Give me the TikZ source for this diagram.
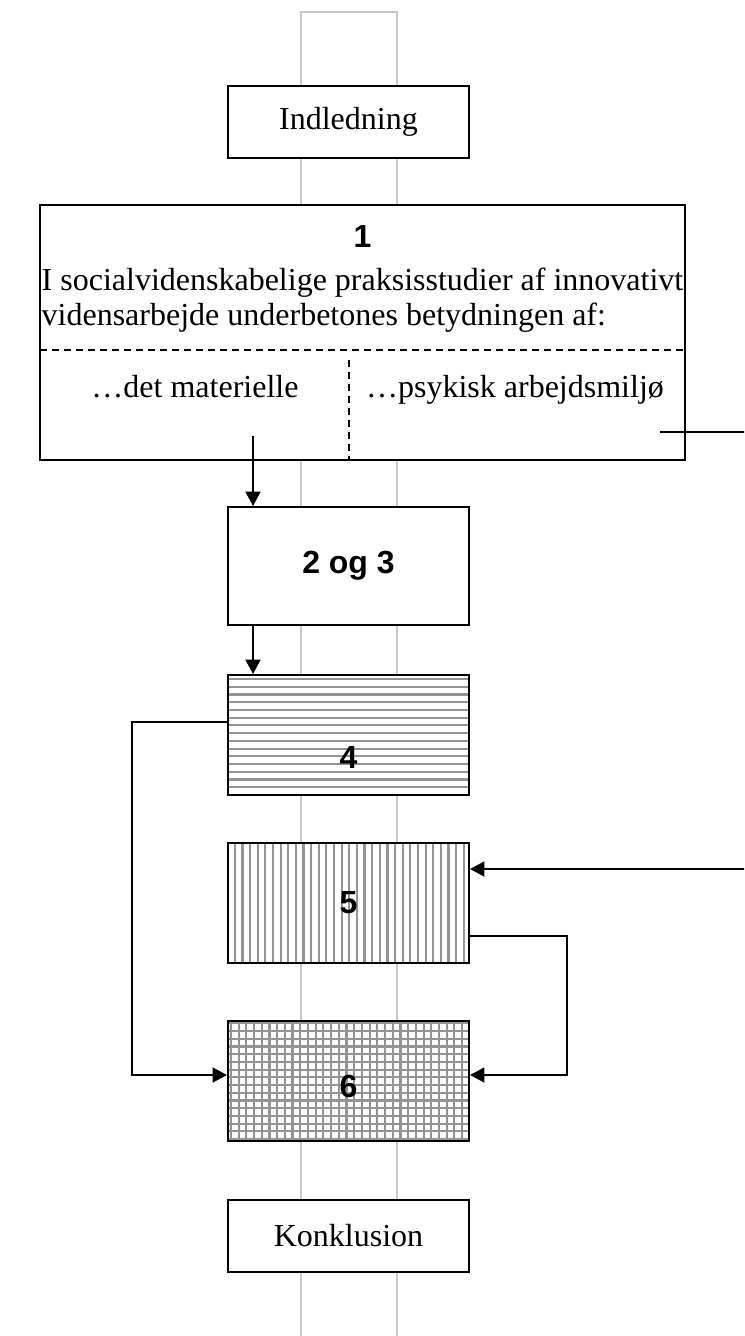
\documentclass[tikz,border=0pt]{standalone}
\usepackage{fontspec}
\setmainfont{Liberation Serif}
\setsansfont{Liberation Sans}
\usetikzlibrary{arrows.meta,positioning,calc}

\begin{document}
\begin{tikzpicture}[
    x=0.375pt, y=-0.375pt,
    box/.style={draw, line width=0.75pt, fill=white, minimum width=90.4pt, minimum height=#1, inner sep=0pt, font=\fontsize{12}{13.1}\selectfont},
    num/.style={font=\sffamily\bfseries\fontsize{12}{13.1}\selectfont},
    stripe/.style={draw=black!42, line width=0.8pt},
    hstripes/.style={path picture={\foreach \i in {0,...,15} \draw[stripe] ([yshift=-1.5pt-\i*2.9pt]path picture bounding box.north west) -- ++(100pt,0);}},
    vstripes/.style={path picture={\foreach \i in {0,...,31} \draw[stripe] ([xshift=2.6pt+\i*2.86pt]path picture bounding box.south west) -- ++(0,60pt);}},
    grid/.style={path picture={\foreach \i in {0,...,31} \draw[stripe] ([xshift=1.1pt+\i*2.89pt]path picture bounding box.south west) -- ++(0,60pt);
        \foreach \i in {0,...,15} \draw[stripe] ([yshift=-0.9pt-\i*2.89pt]path picture bounding box.north west) -- ++(100pt,0);}},
    column/.style={draw=black!22, line width=0.75pt},
    divider/.style={dashed, dash pattern=on 2.6pt off 1.9pt, line width=0.55pt},
    conn/.style={line width=0.75pt},
    >={Triangle[length=5.4pt,width=5.6pt]}
]
    \useasboundingbox (0,0) rectangle (744,1336);
    \clip (0,0) rectangle (744,1336);

    % grey column behind the chapters
    \draw[column] (301,1350) -- (301,12) -- (397,12) -- (397,1350);

    % Indledning
    \node[box=27pt] (ind) at (348.5,122) {Indledning};

    % Kapitel 1
    \node[box=95.6pt, minimum width=241.9pt] (b1) at (362.5,332.5) {};
    \node[num] (t1) at (362.5,236) {1};
    \node[align=left, inner sep=0pt, font=\fontsize{12}{13.1}\selectfont] (q1) at (362.5,300.5)
        {I socialvidenskabelige praksisstudier af innovativt\\vidensarbejde underbetones betydningen af:};
    \draw[divider] (40,350) -- (685,350);
    \draw[divider] (349,360) -- (349,459);
    \node[anchor=base, font=\fontsize{12}{13.1}\selectfont] (mat) at (195,397) {…det materielle};
    \node[anchor=base, font=\fontsize{12}{13.1}\selectfont] (psy) at (515,397) {…psykisk arbejdsmiljø};

    % Kapitel 2-6
    \node[box=44.25pt, num] (b23) at (348.5,566) {2 og 3};
    \node[box=45pt, hstripes, label={[num, yshift=-8.25pt]center:4}] (b4) at (348.5,735) {};
    \node[box=45pt, vstripes, num] (b5) at (348.5,903) {5};
    \node[box=45pt, grid, label={[num, yshift=-1.9pt]center:6}] (b6) at (348.5,1081) {};

    % Konklusion
    \node[box=27pt] (konk) at (348.5,1236) {Konklusion};

    % connectors
    \coordinate (matend) at (253,436);
    \draw[conn, ->] (matend) -- (matend |- b23.north);
    \draw[conn, ->] (b23.south -| matend) -- (b4.north -| matend);

    \coordinate (psyend) at (660,432);
    \coordinate (offright) at (780,432);
    \draw[conn, ->] (psyend) -- (offright) |- ($(b5.north east)+(0,27)$);

    \coordinate (b6l) at ($(b6.west)+(0,-6)$);
    \coordinate (b6r) at ($(b6.east)+(0,-6)$);
    \draw[conn, ->] ($(b4.west)+(0,-13)$) -| ($(b6l)+(-95,0)$) -- (b6l);
    \draw[conn, ->] ($(b5.east)+(0,33)$) -| ($(b6r)+(97,0)$) -- (b6r);
\end{tikzpicture}
\end{document}
